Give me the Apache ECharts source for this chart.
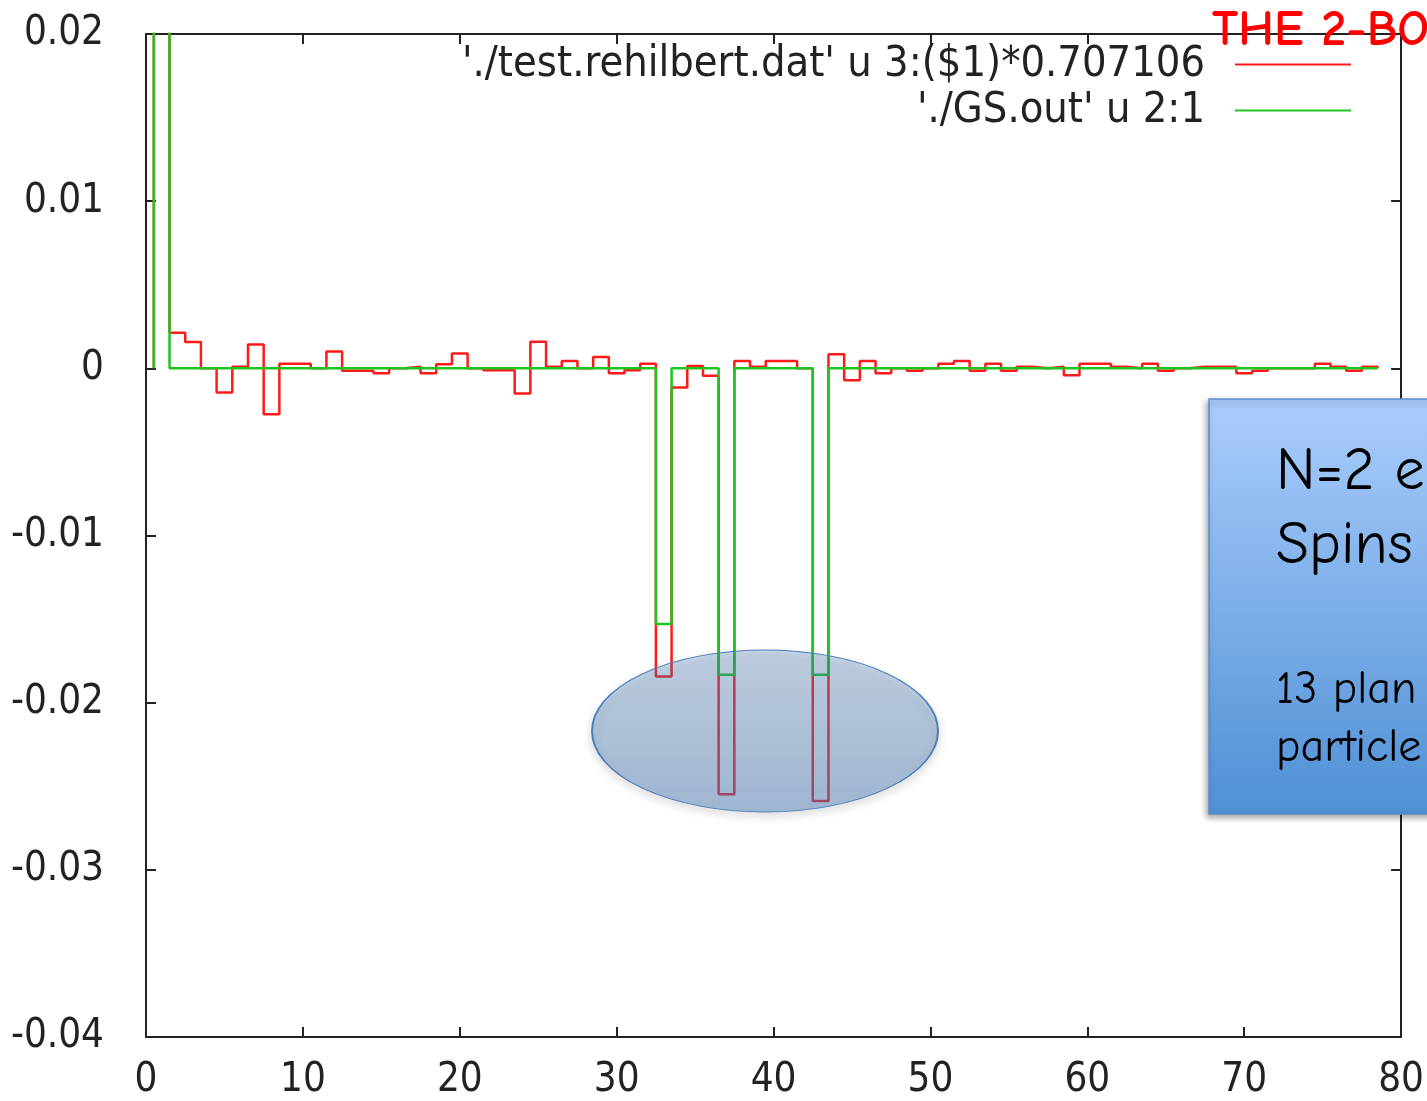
<!DOCTYPE html>
<html>
<head>
<meta charset="utf-8">
<script src="https://cdn.jsdelivr.net/npm/echarts@6/dist/echarts.min.js"></script>
<style>
html,body{margin:0;padding:0;background:#fff;overflow:hidden;}
#chart{width:1427px;height:1101px;}
</style>
</head>
<body>
<div id="chart"></div>
<script>
// bin centres (x) of the histogram-step curves
const binX = [1,2,3,4,5,6,7,8,9,10,11,12,13,14,15,16,17,18,19,20,21,22,23,24,25,26,27,28,29,30,
  31,32,33,34,35,36,37,38,39,40,41,42,43,44,45,46,47,48,49,50,51,52,53,54,55,56,57,58,59,60,
  61,62,63,64,65,66,67,68,69,70,71,72,73,74,75,76,77,78];

// './test.rehilbert.dat' u 3:($1)*0.707106
const redValues = [0.97,0.00213,0.00157,0,-0.00145,0.0001,0.00143,-0.00274,0.00028,0.00028,
  0,0.001,-0.00015,-0.00015,-0.0003,0,0.0001,-0.0003,0.00024,0.00088,
  0,-0.00012,-0.00012,-0.00151,0.00159,0.0001,0.00044,0,0.00068,-0.0003,
  -0.00012,0.00028,-0.01843,-0.00115,0.00014,-0.00045,-0.02548,0.00044,0.0001,0.00044,
  0.00044,0,-0.02588,0.00084,-0.00072,0.00044,-0.0003,0,-0.00015,0,
  0.00028,0.00044,-0.00015,0.00028,-0.00015,0.0001,0,0.0001,-0.00042,0.00028,
  0.00028,0.0001,0,0.00028,-0.00015,0,0.0001,0.0001,0.0001,-0.0003,
  -0.00015,0,0,0,0.00028,0.0001,-0.00015,0.0001];

// './GS.out' u 2:1
const greenValues = [0.97,0,0,0,0,0,0,0,0,0,
  0,0,0,0,0,0,0,0,0,0,
  0,0,0,0,0,0,0,0,0,0,
  0,0,-0.01529,0,0,0,-0.01833,0,0,0,
  0,0,-0.01833,0,0,0,0,0,0,0,
  0,0,0,0,0,0,0,0,0,0,
  0,0,0,0,0,0,0,0,0,0,
  0,0,0,0,0,0,0,0];

const xTicks = [0,10,20,30,40,50,60,70,80];
const yTicks = [-0.04,-0.03,-0.02,-0.01,0,0.01,0.02];

const redName = "'./test.rehilbert.dat' u 3:($1)*0.707106";
const greenName = "'./GS.out' u 2:1";

// gnuplot "histeps": each value spans [x-0.5, x+0.5], starting and ending at 0
function histeps(xs, vs) {
  const pts = [[xs[0] - 0.5, 0]];
  for (let i = 0; i < xs.length; i++) {
    pts.push([xs[i] - 0.5, vs[i]]);
    pts.push([xs[i] + 0.5, vs[i]]);
  }
  pts.push([xs[xs.length - 1] + 0.5, 0]);
  return pts;
}

const tickFont = "'DejaVu Sans Condensed', 'DejaVu Sans', sans-serif";
const comic = "'Comic Sans MS', 'Comic Neue', 'Noto Sans', sans-serif";

const chart = echarts.init(document.getElementById('chart'), null, {renderer: 'canvas'});

const axisLineStyle = {color: '#222', width: 2};
const xBase = {
  type: 'value', min: xTicks[0], max: xTicks[xTicks.length - 1], interval: 10,
  splitLine: {show: false},
  axisLine: {show: true, onZero: false, lineStyle: axisLineStyle},
  axisTick: {show: true, inside: true, length: 10, lineStyle: {color: '#222', width: 2}}
};
const yBase = {
  type: 'value', min: yTicks[0], max: yTicks[yTicks.length - 1], interval: 0.01,
  splitLine: {show: false},
  axisLine: {show: true, onZero: false, lineStyle: axisLineStyle},
  axisTick: {show: true, inside: true, length: 10, lineStyle: {color: '#222', width: 2}}
};

const legendIcon = 'path://M0,9 L116,9 L116,11 L0,11 Z';

chart.setOption({
  animation: false,
  backgroundColor: '#ffffff',
  grid: {left: 146, right: 24, top: 34, bottom: 61, containLabel: false},
  legend: [
    {
      data: [redName], right: 76, top: 43, align: 'right', orient: 'horizontal',
      itemWidth: 116, itemHeight: 20, icon: legendIcon,
      selectedMode: false, padding: 0,
      textStyle: {fontSize: 43, fontFamily: tickFont, color: '#222', padding: [0, 25, 0, 0]}
    },
    {
      data: [greenName], right: 76, top: 89, align: 'right', orient: 'horizontal',
      itemWidth: 116, itemHeight: 20, icon: legendIcon,
      selectedMode: false, padding: 0,
      textStyle: {fontSize: 43, fontFamily: tickFont, color: '#222', padding: [0, 25, 0, 0]}
    }
  ],
  xAxis: [
    Object.assign({}, xBase, {
      position: 'bottom',
      axisLabel: {show: true, fontSize: 40, fontFamily: tickFont, color: '#222', margin: 24,
        formatter: v => String(v)}
    }),
    Object.assign({}, xBase, {position: 'top', axisLabel: {show: false}})
  ],
  yAxis: [
    Object.assign({}, yBase, {
      position: 'left',
      axisLabel: {show: true, fontSize: 40, fontFamily: tickFont, color: '#222', margin: 42,
        formatter: v => String(Math.round(v * 100) / 100)}
    }),
    Object.assign({}, yBase, {position: 'right', axisLabel: {show: false}})
  ],
  series: [
    {
      name: redName, type: 'line', data: histeps(binX, redValues),
      showSymbol: false, symbol: 'none', clip: true, z: 2,
      itemStyle: {color: '#ff1a1a'},
      lineStyle: {color: '#ff1a1a', width: 2.5}
    },
    {
      name: greenName, type: 'line', data: histeps(binX, greenValues),
      showSymbol: false, symbol: 'none', clip: true, z: 3,
      itemStyle: {color: '#1fc41f'},
      lineStyle: {color: '#1fc41f', width: 2.5}
    }
  ],
  graphic: [
    {
      type: 'circle', z: 100, x: 765, y: 731, scaleY: 81 / 173,
      shape: {cx: 0, cy: 0, r: 173},
      style: {
        fill: {type: 'linear', x: 0, y: 0, x2: 0, y2: 1, colorStops: [
          {offset: 0, color: 'rgba(79,129,189,0.30)'},
          {offset: 1, color: 'rgba(79,129,189,0.46)'}]},
        stroke: '#4a7ebb', lineWidth: 2,
        shadowBlur: 8, shadowOffsetY: 4, shadowColor: 'rgba(0,0,0,0.25)'
      }
    },
    {
      type: 'rect', z: 100, x: 1209, y: 399,
      shape: {x: 0, y: 0, width: 240, height: 415},
      style: {
        fill: {type: 'linear', x: 0, y: 0, x2: 0, y2: 1, colorStops: [
          {offset: 0, color: '#aacdfc'},
          {offset: 1, color: '#4f90d5'}]},
        stroke: '#5d8fcb', lineWidth: 1.5,
        shadowBlur: 6, shadowOffsetX: -2, shadowOffsetY: 3, shadowColor: 'rgba(0,0,0,0.35)'
      }
    },
    {
      type: 'text', z: 101, x: 1276, y: 472,
      style: {text: 'N=2 e', font: '60px ' + comic, fill: '#000', textVerticalAlign: 'middle'}
    },
    {
      type: 'text', z: 101, x: 1276, y: 546,
      style: {text: 'Spins', font: '60px ' + comic, fill: '#000', textVerticalAlign: 'middle'}
    },
    {
      type: 'text', z: 101, x: 1276, y: 690,
      style: {text: '13 plan', font: '46px ' + comic, fill: '#000', textVerticalAlign: 'middle'}
    },
    {
      type: 'text', z: 101, x: 1276, y: 748,
      style: {text: 'particle', font: '46px ' + comic, fill: '#000', textVerticalAlign: 'middle'}
    },
    {
      type: 'text', z: 101, x: 1212, y: 31,
      style: {text: 'THE 2-BO', font: 'bold 50px ' + comic, fill: '#ff0000', textVerticalAlign: 'middle'}
    }
  ]
});
</script>
</body>
</html>
